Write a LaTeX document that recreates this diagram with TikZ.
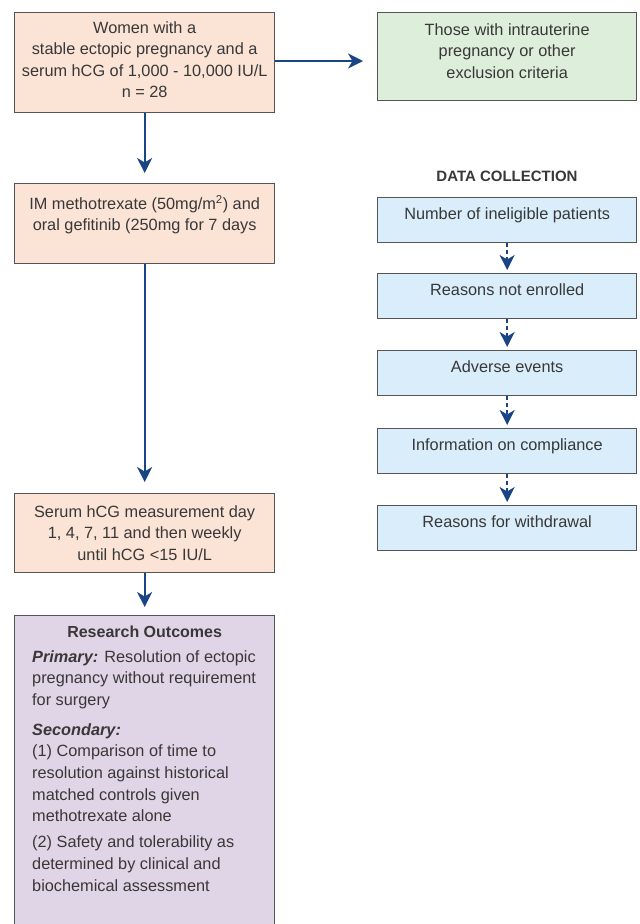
\documentclass[tikz,border=0pt]{standalone}
\usepackage{fontspec}
\setmainfont{Liberation Sans}
\usetikzlibrary{arrows.meta}
\definecolor{peach}{HTML}{FBE3D6}
\definecolor{mint}{HTML}{DDEEDA}
\definecolor{sky}{HTML}{DAEDFA}
\definecolor{lilac}{HTML}{E0D5E6}
\definecolor{edge}{HTML}{555555}
\definecolor{navy}{HTML}{1A4585}
\definecolor{ink}{HTML}{383838}
\begin{document}
\begin{tikzpicture}[x=1pt,y=-1pt,
  boxbase/.style={draw=edge, line width=1.3pt, inner sep=0pt, anchor=north west},
  pbox/.style={boxbase, fill=peach, minimum width=260pt},
  gbox/.style={boxbase, fill=mint, minimum width=259pt, minimum height=88pt},
  bbox/.style={boxbase, fill=sky, minimum width=259pt, minimum height=45pt},
  lbox/.style={boxbase, fill=lilac, minimum width=260pt, minimum height=330pt},
  txt/.style={anchor=north, inner sep=0pt, align=center, font=\fontsize{16.3}{21.5}\selectfont, text=ink},
  flow/.style={draw=navy, line width=1.7pt, -{Stealth[length=15pt,width=15pt,inset=4.5pt]}},
  dflow/.style={flow, dash pattern=on 4pt off 3pt}
]
\fill[white] (0,0) rectangle (640,924);
\clip (0,0) rectangle (640,924);

% left column
\node[pbox, minimum height=100pt] (b1) at (14,12) {};
\node[txt] (b1t) at ([yshift=-9pt]b1.north) {Women with a\\stable ectopic pregnancy and a\\serum hCG of 1,000 - 10,000 IU/L\\n = 28};

\node[pbox, minimum height=80pt] (b3) at (14,183) {};
\node[txt] (b3t) at ([yshift=-12pt]b3.north) {IM methotrexate (50mg/m\textsuperscript{2}) and\\oral gefitinib (250mg for 7 days};

\node[pbox, minimum height=79pt] (b4) at (14,493) {};
\node[txt] (b4t) at ([yshift=-12pt]b4.north) {Serum hCG measurement day\\1, 4, 7, 11 and then weekly\\until hCG <15 IU/L};

\node[lbox] (b5) at (14,615) {};
\node[txt, font=\bfseries\fontsize{16}{21.5}\selectfont] (b5h) at ([yshift=-11pt]b5.north) {Research Outcomes};
\node[anchor=north west, inner sep=0pt, align=left, text=ink, font=\fontsize{16.3}{21.7}\selectfont] (b5t) at (32,650)
{\textbf{\textit{Primary:}} Resolution of ectopic\\
pregnancy without requirement\\
for surgery\\[8pt]
\textbf{\textit{Secondary:}}\\
(1) Comparison of time to\\
resolution against historical\\
matched controls given\\
methotrexate alone\\[4pt]
(2) Safety and tolerability as\\
determined by clinical and\\
biochemical assessment};

% right column
\node[gbox] (b2) at (377,12) {};
\node[txt] (b2t) at ([yshift=-11pt]b2.north) {Those with intrauterine\\pregnancy or other\\exclusion criteria};

\node[anchor=center, inner sep=0pt, text=ink, font=\bfseries\fontsize{15}{18}\selectfont] (dc) at (507,176) {DATA COLLECTION};

\node[bbox] (d1) at (377,197) {};
\node[txt] (d1t) at ([yshift=-10pt]d1.north) {Number of ineligible patients};
\node[bbox] (d2) at (377,273) {};
\node[txt] (d2t) at ([yshift=-10pt]d2.north) {Reasons not enrolled};
\node[bbox] (d3) at (377,350) {};
\node[txt] (d3t) at ([yshift=-10pt]d3.north) {Adverse events};
\node[bbox] (d4) at (377,428) {};
\node[txt] (d4t) at ([yshift=-10pt]d4.north) {Information on compliance};
\node[bbox] (d5) at (377,505) {};
\node[txt] (d5t) at ([yshift=-10pt]d5.north) {Reasons for withdrawal};

% connectors
\draw[flow, shorten >=10pt] (b1.south) -- (b3.north);
\draw[flow, shorten >=14pt] (b1.east |- 0,61) -- (b2.west |- 0,61);
\draw[flow, shorten >=11pt] (b3.south) -- (b4.north);
\draw[flow, shorten >=8pt] (b4.south) -- (b5.north);
\draw[dflow, shorten >=3pt] (d1.south) -- (d2.north);
\draw[dflow, shorten >=3pt] (d2.south) -- (d3.north);
\draw[dflow, shorten >=3pt] (d3.south) -- (d4.north);
\draw[dflow, shorten >=3pt] (d4.south) -- (d5.north);
\end{tikzpicture}
\end{document}
